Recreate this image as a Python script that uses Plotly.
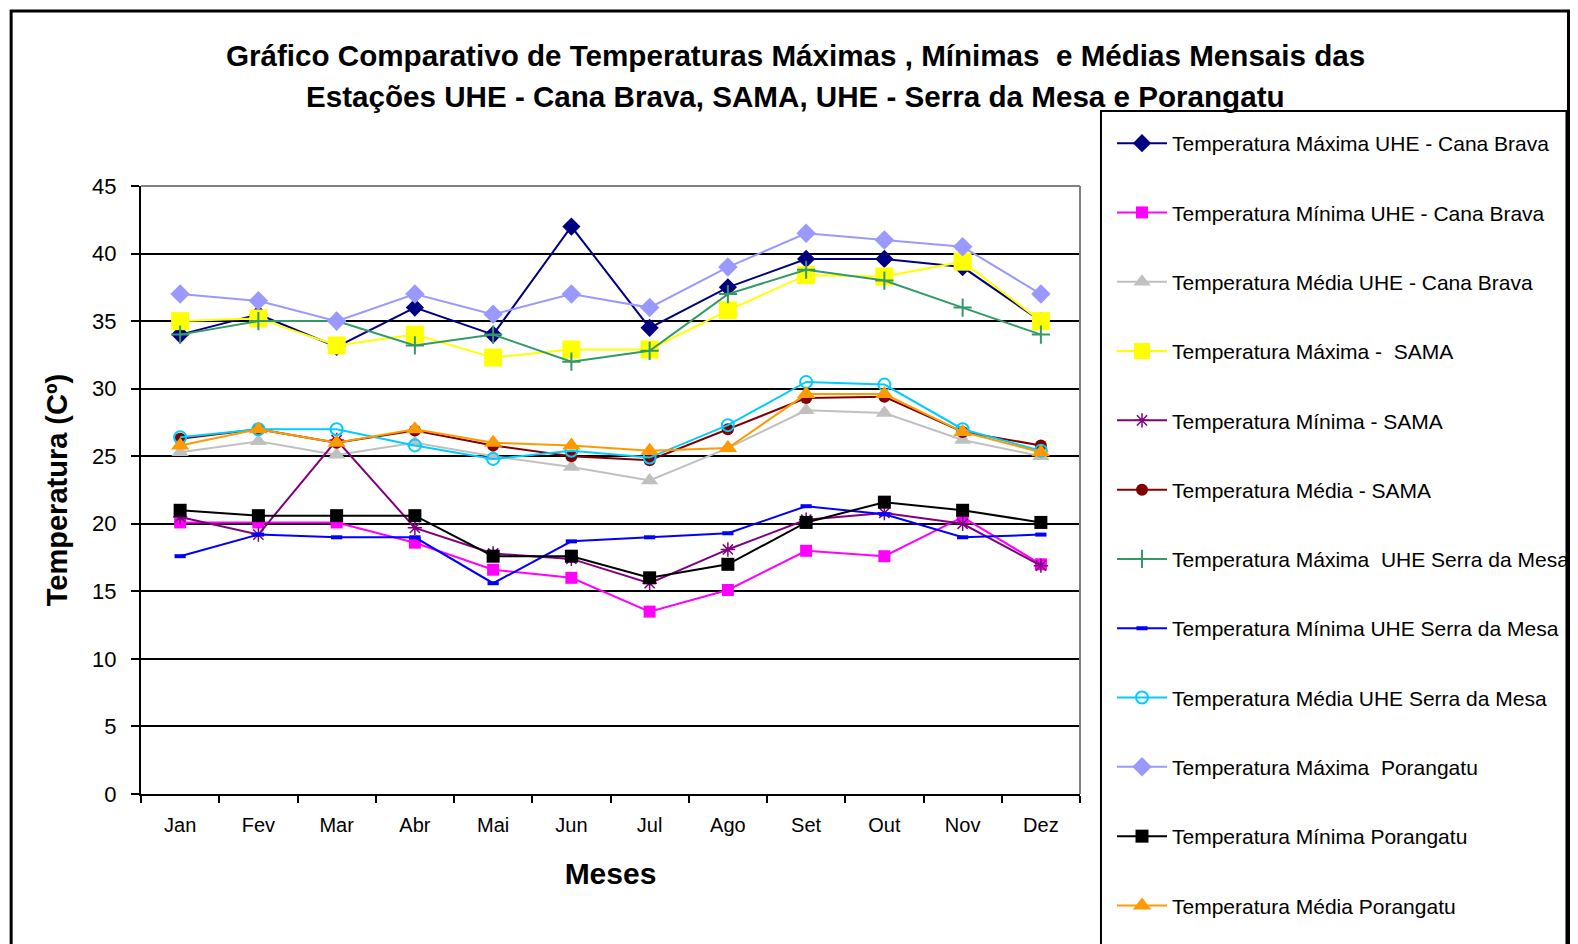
import plotly.graph_objects as go

meses = ["Jan", "Fev", "Mar", "Abr", "Mai", "Jun", "Jul", "Ago", "Set", "Out", "Nov", "Dez"]

max_cana_brava = [34.0, 35.5, 33.1, 36.0, 34.0, 42.0, 34.5, 37.5, 39.6, 39.6, 39.0, 35.0]
min_cana_brava = [20.1, 20.1, 20.1, 18.6, 16.6, 16.0, 13.5, 15.1, 18.0, 17.6, 20.5, 17.0]
med_cana_brava = [25.3, 26.1, 25.1, 26.0, 25.0, 24.2, 23.2, 25.6, 28.4, 28.2, 26.2, 25.0]
max_sama = [35.0, 35.2, 33.2, 34.0, 32.3, 32.9, 32.9, 35.8, 38.4, 38.3, 39.4, 35.0]
min_sama = [20.5, 19.2, 26.2, 19.7, 17.8, 17.4, 15.6, 18.1, 20.3, 20.8, 20.0, 16.9]
med_sama = [26.3, 27.0, 26.0, 26.9, 25.8, 25.0, 24.7, 27.0, 29.3, 29.4, 26.8, 25.8]
max_serra = [34.0, 35.0, 35.0, 33.2, 34.0, 32.0, 32.8, 37.0, 38.8, 38.0, 36.0, 34.0]
min_serra = [17.6, 19.2, 19.0, 19.0, 15.6, 18.7, 19.0, 19.3, 21.3, 20.7, 19.0, 19.2]
med_serra = [26.4, 27.0, 27.0, 25.8, 24.8, 25.4, 24.9, 27.3, 30.5, 30.3, 27.0, 25.4]
max_porangatu = [37.0, 36.5, 35.0, 37.0, 35.5, 37.0, 36.0, 39.0, 41.5, 41.0, 40.5, 37.0]
min_porangatu = [21.0, 20.6, 20.6, 20.6, 17.6, 17.6, 16.0, 17.0, 20.1, 21.6, 21.0, 20.1]
med_porangatu = [25.8, 27.0, 26.0, 27.0, 26.0, 25.8, 25.4, 25.6, 29.6, 29.6, 26.8, 25.3]

series = [
    ("Temperatura Máxima UHE - Cana Brava", max_cana_brava, "#000080",
     dict(symbol="diamond", size=14, color="#000080")),
    ("Temperatura Mínima UHE - Cana Brava", min_cana_brava, "#FF00FF",
     dict(symbol="square", size=12, color="#FF00FF")),
    ("Temperatura Média UHE - Cana Brava", med_cana_brava, "#C0C0C0",
     dict(symbol="triangle-up", size=15, color="#C0C0C0")),
    ("Temperatura Máxima -  SAMA", max_sama, "#FFFF00",
     dict(symbol="square", size=18, color="#FFFF00")),
    ("Temperatura Mínima - SAMA", min_sama, "#800080",
     dict(symbol="asterisk", size=12, color="#800080", line=dict(color="#800080", width=1.5))),
    ("Temperatura Média - SAMA", med_sama, "#800000",
     dict(symbol="circle", size=12, color="#800000")),
    ("Temperatura Máxima  UHE Serra da Mesa", max_serra, "#339966",
     dict(symbol="cross-thin", size=13, color="#339966", line=dict(color="#339966", width=2))),
    ("Temperatura Mínima UHE Serra da Mesa", min_serra, "#0000FF",
     dict(symbol="line-ew", size=8, color="#0000FF", line=dict(color="#0000FF", width=4))),
    ("Temperatura Média UHE Serra da Mesa", med_serra, "#00CCFF",
     dict(symbol="circle-open", size=12, color="#00CCFF", line=dict(color="#00CCFF", width=2))),
    ("Temperatura Máxima  Porangatu", max_porangatu, "#9999FF",
     dict(symbol="diamond", size=15, color="#9999FF")),
    ("Temperatura Mínima Porangatu", min_porangatu, "#000000",
     dict(symbol="square", size=13, color="#000000")),
    ("Temperatura Média Porangatu", med_porangatu, "#FF9900",
     dict(symbol="triangle-up", size=16, color="#FF9900")),
]

fig = go.Figure()
for i, (name, vals, col, mk) in enumerate(series):
    fig.add_trace(go.Scatter(
        x=meses, y=vals, name=name, mode="lines+markers",
        line=dict(color=col, width=2), marker=mk,
        legendgroup=f"g{i}",
    ))

W, H = 1578, 944
L, R, T, B = 133, 1073, 178, 786
pw, ph = R - L, B - T


def px(x):
    return (x - L) / pw


def py(y):
    return (B - y) / ph


FONT = "Liberation Sans, Arial, sans-serif"

fig.update_layout(
    width=W, height=H,
    margin=dict(l=L, r=W - R, t=T, b=H - B),
    paper_bgcolor="white", plot_bgcolor="white",
    font=dict(family=FONT, color="black"),
    showlegend=True,
    legend=dict(
        x=px(1104), y=py(102), xanchor="left", yanchor="top",
        borderwidth=0, bgcolor="rgba(0,0,0,0)",
        font=dict(family=FONT, size=21, color="black"),
        title=dict(text=" ", font=dict(size=10)),
        tracegroupgap=39,
        itemwidth=50,
        maxheight=1200,
    ),
    xaxis=dict(
        type="category", range=[-0.5, 11.5],
        showgrid=False, showline=True, linecolor="black", linewidth=2,
        ticks="outside", tickson="boundaries", ticklen=7, tickwidth=2, tickcolor="black",
        tickfont=dict(size=20, family=FONT), ticklabelstandoff=12,
        title=dict(text="<b>Meses</b>", font=dict(size=30, family=FONT), standoff=28),
    ),
    yaxis=dict(
        range=[0, 45], tickmode="array", tickvals=list(range(0, 50, 5)),
        showgrid=True, gridcolor="black", gridwidth=2, zeroline=False,
        showline=True, linecolor="black", linewidth=2,
        ticks="outside", ticklen=8, tickwidth=2, tickcolor="black",
        tickfont=dict(size=22, family=FONT), ticklabelstandoff=10,
        title=dict(text="<b>Temperatura (Cº)</b>", font=dict(size=29, family=FONT), standoff=16),
    ),
    annotations=[
        dict(text="<b>Gráfico Comparativo de Temperaturas Máximas , Mínimas  e Médias Mensais das</b>",
             x=px(788), y=py(48), xref="paper", yref="paper", showarrow=False,
             xanchor="center", yanchor="middle", font=dict(size=29.6, family=FONT)),
        dict(text="<b>Estações UHE - Cana Brava, SAMA, UHE - Serra da Mesa e Porangatu</b>",
             x=px(788), y=py(88), xref="paper", yref="paper", showarrow=False,
             xanchor="center", yanchor="middle", font=dict(size=29.6, family=FONT)),
    ],
    shapes=[
        # outer chart frame
        dict(type="rect", xref="paper", yref="paper", x0=px(3), x1=px(1562), y0=py(960), y1=py(3),
             line=dict(color="black", width=3), layer="below"),
        # legend box (extends past the bottom edge, as in the original)
        dict(type="rect", xref="paper", yref="paper", x0=px(1094), x1=px(1560), y0=py(960), y1=py(103),
             line=dict(color="black", width=2), fillcolor="white", layer="below"),
        # plot area top and right border (gray)
        dict(type="line", xref="paper", yref="paper", x0=0, x1=1, y0=1, y1=1,
             line=dict(color="#808080", width=2), layer="above"),
        dict(type="line", xref="paper", yref="paper", x0=1, x1=1, y0=0, y1=1,
             line=dict(color="#808080", width=2), layer="above"),
    ],
)

fig.write_html("out.html")
